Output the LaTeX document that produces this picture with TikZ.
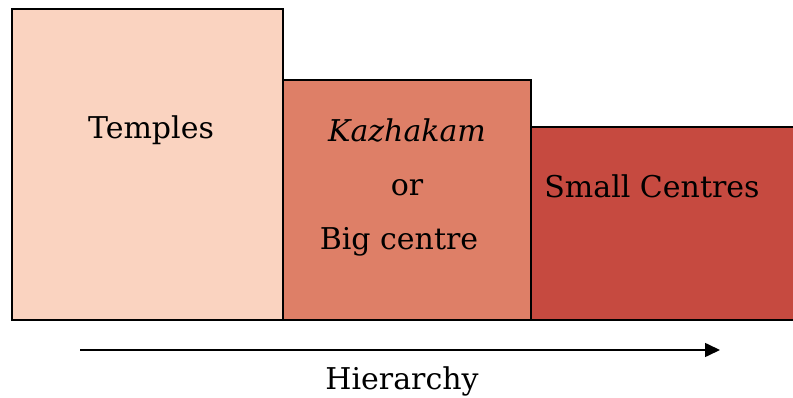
\documentclass[tikz,border=0pt]{standalone}
\usepackage{fontspec}
\setmainfont{DejaVu Serif}
\usetikzlibrary{arrows.meta}
\definecolor{tierA}{HTML}{FAD3C0}
\definecolor{tierB}{HTML}{DE7F67}
\definecolor{tierC}{HTML}{C64A40}
\tikzset{
  tier/.style={draw=black, line width=1.4pt},
  lbl/.style={font=\fontsize{30}{36}\selectfont, inner sep=0pt},
}
\begin{document}
\begin{tikzpicture}[x=1pt,y=-1pt]
\useasboundingbox (0,0) rectangle (793,398);
\begin{scope}
\clip (0,0) rectangle (793,398);
% three tiers, tallest first
\draw[tier, fill=tierA] (12,9) rectangle (283,320);
\draw[tier, fill=tierB] (283,80) rectangle (531,320);
\draw[tier, fill=tierC] (531,127) rectangle (800,320);
\end{scope}
\node[lbl] (temples) at (151,130) {Temples};
\node[lbl] (kaz) at (407,130) {\itshape Kazhakam};
\node[lbl] (or) at (407,188) {or};
\node[lbl] (big) at (399,242) {Big centre};
\node[lbl] (small) at (652,186) {Small Centres};
% hierarchy arrow
\coordinate (a0) at (80,350);
\coordinate (a1) at (720,350);
\draw[line width=1.6pt, -{Triangle[length=15pt,width=14pt]}] (a0) -- (a1);
\node[lbl] (hier) at (402,381) {Hierarchy};
\end{tikzpicture}
\end{document}
